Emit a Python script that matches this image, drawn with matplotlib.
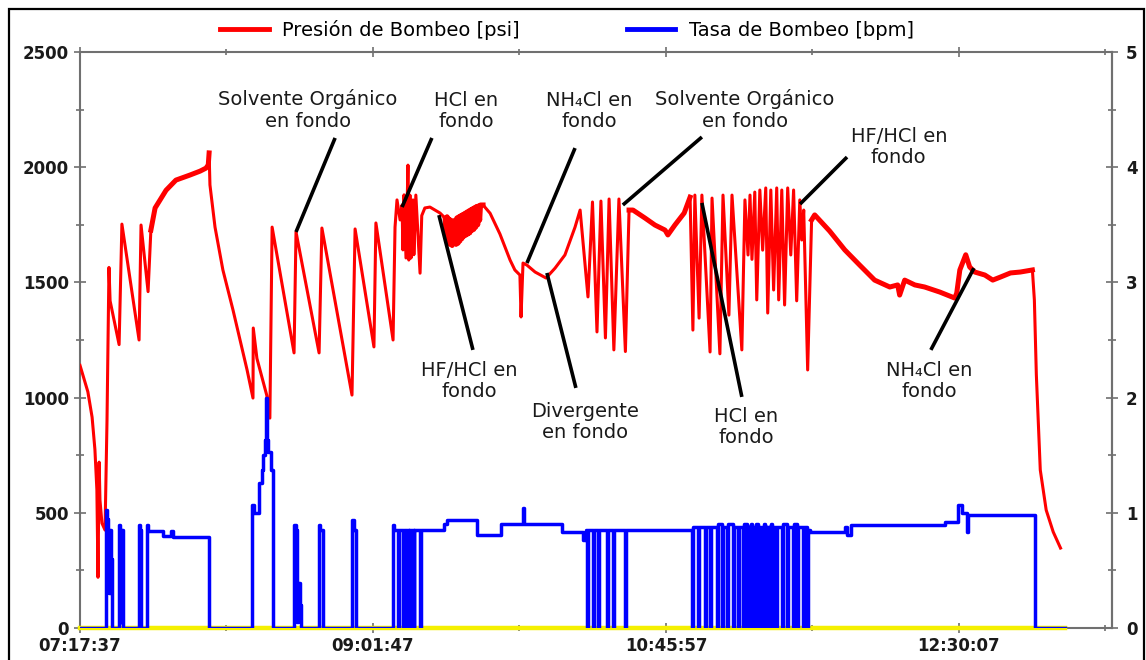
import numpy as np
import matplotlib
matplotlib.use('Agg')
import matplotlib.pyplot as plt
from matplotlib.patches import Rectangle
from matplotlib.lines import Line2D
from matplotlib.ticker import FixedLocator, FuncFormatter, MultipleLocator

# time axis: minutes elapsed since the job start (07:17:37)
START = '07:17:37'
time_labels = ['07:17:37', '09:01:47', '10:45:57', '12:30:07']

# pumping pressure [psi]
press_t = [0.0, 2.8, 4.3, 5.3, 6.0, 6.4, 6.8, 7.1, 7.8, 8.9, 9.6, 10.3, 10.7, 13.9, 14.9,
           21.0, 21.7, 24.2, 25.2, 26.7, 30.6, 34.1, 39.1, 42.7, 44.8, 45.6, 45.9, 46.2,
           48.0, 50.8, 54.4, 59.4, 61.5, 61.6, 62.9, 66.4, 67.5, 68.3, 76.1, 76.8, 85.0,
           86.0, 96.7, 97.8, 104.5, 105.2, 111.3, 112.0, 112.7, 113.8, 114.5, 114.8, 115.2,
           115.9, 116.6, 116.9, 117.3, 117.7, 118.4, 118.7, 119.4, 120.9, 121.5, 122.6,
           124.4, 128.0, 129.8, 130.2, 130.5, 130.9, 131.2, 131.6, 131.9, 132.3, 132.6,
           133.0, 133.3, 133.7, 134.0, 134.4, 134.7, 135.1, 135.4, 135.8, 136.1, 136.5,
           136.8, 137.2, 137.5, 137.9, 138.2, 138.6, 138.9, 139.3, 139.6, 140.0, 140.3,
           140.7, 141.0, 141.4, 141.7, 142.1, 142.4, 143.3,
           145.8, 149.3, 152.9, 154.6, 156.4, 156.8, 157.5, 158.9, 161.8, 165.7, 168.9,
           172.4, 176.0, 177.8, 180.6, 182.2, 183.8, 185.2, 186.8, 188.1, 189.8, 191.6,
           193.9, 195.2, 196.6, 200.9, 204.4, 208.0, 209.0, 211.5, 214.8, 216.9, 217.9,
           218.6, 220.1, 221.1, 224.0, 224.7, 227.5, 228.6, 230.7, 231.8, 235.3, 236.4,
           237.5, 238.2, 238.9, 239.9, 240.6, 241.7, 242.7, 243.8, 244.5, 245.6, 246.6,
           247.7, 248.4, 249.5, 250.5, 251.6, 252.7, 253.7, 254.8, 255.9, 256.6, 257.3,
           258.7, 260.1, 261.2, 266.5, 271.9, 277.2, 282.5, 287.9, 290.7, 291.4, 293.2,
           296.8, 300.3, 305.7, 311.0, 311.7, 312.8, 314.9, 316.3, 318.1, 321.7, 324.5,
           327.2, 330.8, 334.3, 338.6, 339.3, 340.0, 341.4, 343.5, 346.0, 348.6]
press_psi = [1140, 1025, 915, 775, 600, 220, 720, 555, 455, 425, 900, 1565, 1420, 1230, 1753,
             1250, 1749, 1460, 1727, 1823, 1900, 1944, 1966, 1983, 1996, 2010, 2062, 1923,
             1740, 1554, 1380, 1120, 998, 1302, 1170, 1010, 911, 1740, 1194, 1719, 1194,
             1736, 1011, 1732, 1220, 1758, 1250, 1740, 1858, 1771, 1836, 1641, 1880,
             1606, 2009, 1597, 1879, 1606, 1858, 1620, 1879, 1540, 1790, 1823,
             1827, 1801, 1779, 1700, 1785, 1680, 1775, 1665, 1770, 1660, 1765,
             1670, 1770, 1665, 1780, 1670, 1785, 1680, 1790, 1690, 1795, 1700,
             1800, 1705, 1805, 1710, 1810, 1715, 1815, 1725, 1820, 1730, 1825,
             1740, 1830, 1750, 1832, 1770, 1836, 1836,
             1800, 1710, 1597, 1554, 1532, 1350, 1584, 1575, 1545, 1519, 1562,
             1619, 1740, 1814, 1437, 1849, 1285, 1853, 1259, 1862, 1207, 1862,
             1200, 1814, 1814, 1779, 1749, 1727, 1706, 1749, 1801, 1870, 1293,
             1879, 1345, 1879, 1198, 1866, 1190, 1879, 1358, 1879, 1207, 1858,
             1619, 1879, 1600, 1892, 1424, 1901, 1640, 1910, 1367, 1901, 1467,
             1910, 1424, 1901, 1402, 1910, 1619, 1901, 1420, 1858, 1684, 1814,
             1120, 1771, 1793, 1723, 1641, 1575, 1510, 1480, 1489, 1445, 1510,
             1489, 1480, 1458, 1432, 1454, 1554, 1620, 1567, 1545, 1532, 1510,
             1523, 1541, 1545, 1554, 1424, 1100, 686, 512, 417, 347]

# pumping rate [bpm], held until the next entry
rate_t = [0.0, 9.2, 9.6, 10.0, 10.4, 10.6, 11.1, 11.4, 13.9, 14.2, 14.4, 14.7, 15.4,
          21.0, 21.4, 21.8, 23.9, 24.2, 29.5, 32.5, 33.2, 45.9, 61.2, 62.0, 63.8, 64.7,
          65.0, 65.6, 66.0, 66.5, 67.0, 68.0, 68.6, 76.1, 76.7, 77.2, 77.6, 78.2, 78.6,
          85.0, 85.5, 86.3, 96.7, 97.3, 98.0, 111.4, 111.8, 113.0, 113.3, 114.8, 115.1,
          116.2, 116.5, 116.8, 117.1, 117.4, 117.7, 118.0, 118.3, 118.6, 118.9, 120.9,
          121.2, 129.4, 130.5, 141.0, 149.8, 157.6, 158.0, 171.2, 178.9, 180.0, 180.2,
          180.6, 182.4, 182.8, 184.1, 184.5, 187.3, 187.7, 189.5, 189.9, 193.7, 194.1,
          217.6, 217.9, 219.7, 220.0, 222.2, 222.5, 224.0, 224.3, 226.5, 226.8, 228.3,
          228.6, 230.0, 230.3, 232.2, 232.5, 233.9, 234.2, 235.7, 236.0, 237.1, 237.4,
          237.7, 238.0, 238.3, 238.6, 239.0, 239.3, 239.6, 239.9, 240.2, 240.5, 240.9,
          241.2, 241.5, 241.8, 242.2, 242.5, 242.8, 243.1, 243.5, 243.8, 244.1, 244.4,
          244.8, 245.1, 245.4, 245.7, 246.1, 246.4, 246.7, 247.0, 247.4, 247.8, 249.6,
          249.9, 251.3, 251.6, 253.5, 253.8, 254.9, 255.2, 257.0, 257.3, 258.6, 258.9,
          259.5, 271.9, 272.6, 274.0, 307.6, 312.3, 313.5, 315.2, 315.6, 339.4, 350.2]
rate_bpm = [0, 1.02, 0.95, 0.85, 0.30, 0.85, 0.60, 0, 0.89, 0.85, 0.05, 0.85, 0,
            0.89, 0.85, 0, 0.89, 0.84, 0.80, 0.84, 0.79, 0, 1.07, 1.00, 1.26, 1.37,
            1.50, 1.63, 2.00, 1.63, 1.53, 1.37, 0, 0.89, 0.85, 0.05, 0.39, 0.20, 0,
            0.89, 0.85, 0, 0.94, 0.85, 0, 0.89, 0.85, 0, 0.85, 0, 0.85,
            0, 0.85, 0, 0.85, 0, 0.85, 0, 0.85, 0, 0.85, 0,
            0.85, 0.90, 0.94, 0.81, 0.90, 1.04, 0.90, 0.83, 0.76, 0.85, 0,
            0.85, 0, 0.85, 0, 0.85, 0, 0.85, 0, 0.85, 0, 0.85,
            0, 0.88, 0, 0.88, 0, 0.88, 0, 0.88, 0, 0.90, 0,
            0.88, 0, 0.90, 0, 0.88, 0, 0.88, 0, 0.90, 0, 0.88,
            0, 0.88, 0, 0.90, 0, 0.88, 0, 0.88, 0, 0.90, 0,
            0.88, 0, 0.88, 0, 0.88, 0, 0.90, 0, 0.88, 0, 0.88,
            0, 0.88, 0, 0.90, 0, 0.88, 0, 0.88, 0, 0.88, 0,
            0.90, 0, 0.88, 0, 0.90, 0, 0.88, 0, 0.88, 0, 0.85,
            0.83, 0.88, 0.81, 0.89, 0.92, 1.07, 1.00, 0.83, 0.98, 0, 0]

# third channel, flat at zero
aux_t = [0.0, 350.2]
aux_v = [0, 0]

# stretches where the pressure trace is noisy and shows as a thick band
noisy_spans = [(25.0, 46.0), (129.5, 143.5), (195.0, 217.0), (259.5, 338.8)]

# callouts: text, text centre, line start, line end (t [min], psi)
callouts = [
    ('Solvente Orgánico\nen fondo', (81.1, 2248), (90.7, 2127), (76.8, 1719)),
    ('HCl en\nfondo', (137.2, 2244), (125.1, 2127), (114.5, 1827)),
    ('NH₄Cl en\nfondo', (181.0, 2244), (176.0, 2083), (158.9, 1584)),
    ('Solvente Orgánico\nen fondo', (236.4, 2248), (221.1, 2131), (193.0, 1836)),
    ('HF/HCl en\nfondo', (291.1, 2088), (272.7, 2044), (256.0, 1840)),
    ('HF/HCl en\nfondo', (138.3, 1072), (139.7, 1207), (127.6, 1792)),
    ('Divergente\nen fondo', (179.5, 894), (176.3, 1042), (166.0, 1541)),
    ('HCl en\nfondo', (236.8, 872), (235.3, 1003), (221.1, 1845)),
    ('NH₄Cl en\nfondo', (301.8, 1072), (302.5, 1207), (317.8, 1562)),
]


def to_sec(s):
    h, m, sec = (int(v) for v in s.split(':'))
    return h * 3600 + m * 60 + sec


start_s = to_sec(START)
tick_pos = [(to_sec(s) - start_s) / 60 for s in time_labels]


def clock(m, _pos=None):
    s = int(round(start_s + m * 60))
    return f'{s // 3600:02d}:{s % 3600 // 60:02d}:{s % 60:02d}'


AXIS = '#707070'
TXT = '#1a1a1a'
RED = '#ff0000'
BLUE = '#0000ff'

fig = plt.figure(figsize=(11.46, 6.6), dpi=100)
ax = fig.add_axes([80 / 1146, 32 / 660, 1032 / 1146, 576 / 660])
ax2 = ax.twinx()

ax.plot(aux_t, aux_v, color='#f5f000', lw=3.2, clip_on=False, zorder=2.7)
ax.plot(press_t, press_psi, color=RED, lw=2.2, zorder=3)
pt = np.array(press_t)
pp = np.array(press_psi)
for t0, t1 in noisy_spans:
    sel = (pt >= t0) & (pt <= t1)
    ax.plot(pt[sel], pp[sel], color=RED, lw=3.6, zorder=3)
ax2.plot(rate_t, rate_bpm, color=BLUE, lw=2.5, drawstyle='steps-post', zorder=3)

ax.set_xlim(0, 366.9)
ax.set_ylim(0, 2500)
ax2.set_ylim(0, 5)

ax.xaxis.set_major_locator(FixedLocator(tick_pos))
ax.xaxis.set_minor_locator(FixedLocator([p + (tick_pos[1] - tick_pos[0]) / 2 for p in tick_pos]))
ax.xaxis.set_major_formatter(FuncFormatter(clock))
ax.yaxis.set_major_locator(MultipleLocator(500))
ax.yaxis.set_minor_locator(MultipleLocator(250))
ax2.yaxis.set_major_locator(MultipleLocator(1))
ax2.yaxis.set_minor_locator(MultipleLocator(0.5))

# the frame comes from the primary axes; the twin only keeps its right spine
for sp in ax.spines.values():
    sp.set_color(AXIS)
    sp.set_linewidth(1.5)
for side, sp in ax2.spines.items():
    sp.set_visible(side == 'right')
    sp.set_color(AXIS)
    sp.set_linewidth(1.5)

ax.tick_params(axis='x', which='both', direction='inout', top=True, color=AXIS, width=1.2)
ax.tick_params(axis='x', which='major', length=7, pad=3)
ax.tick_params(axis='x', which='minor', length=5)
ax.tick_params(axis='y', which='both', direction='inout', color=AXIS, width=1.2)
ax.tick_params(axis='y', which='major', length=8, pad=4)
ax.tick_params(axis='y', which='minor', length=6)
ax2.tick_params(axis='y', which='both', direction='inout', color=AXIS, width=1.2)
ax2.tick_params(axis='y', which='major', length=8, pad=6)
ax2.tick_params(axis='y', which='minor', length=6)
for lab in ax.get_xticklabels() + ax.get_yticklabels() + ax2.get_yticklabels():
    lab.set_fontsize(12)
    lab.set_fontweight('bold')
    lab.set_color(TXT)

for text, txy, p0, p1 in callouts:
    ax.text(txy[0], txy[1], text, ha='center', va='center', fontsize=14,
            color=TXT, linespacing=1.15, zorder=5)
    ax.plot([p0[0], p1[0]], [p0[1], p1[1]], color='black', lw=2.6,
            solid_capstyle='butt', zorder=5)

handles = [Line2D([], [], color=RED, lw=3.5), Line2D([], [], color=BLUE, lw=3.5)]
fig.legend(handles, ['Presión de Bombeo [psi]', 'Tasa de Bombeo [bpm]'],
           loc='center', bbox_to_anchor=(567 / 1146, 1 - 30 / 660), ncol=2,
           frameon=False, fontsize=14, handlelength=2.5, handletextpad=0.7,
           columnspacing=5.5)

fig.patches.append(Rectangle((9 / 1146, -0.05), 1135 / 1146, 1.05 - 9 / 660,
                             transform=fig.transFigure, fill=False,
                             edgecolor='black', lw=1.6))

fig.savefig('out.png', dpi=100)
